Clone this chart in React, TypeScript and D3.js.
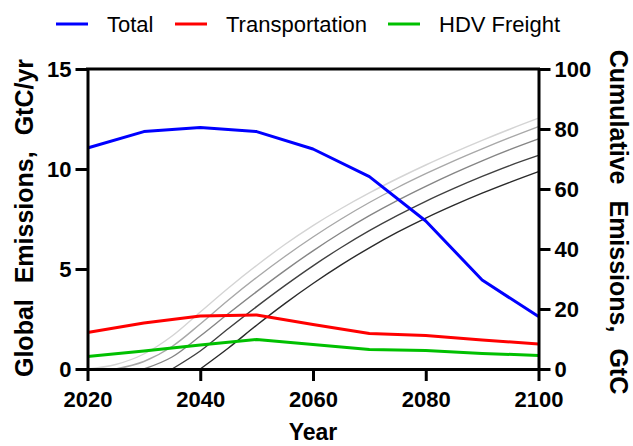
import { useEffect, useRef } from "react";
import * as d3 from "d3";

// emissions by decade, GtC/yr
const years = [2020, 2030, 2040, 2050, 2060, 2070, 2080, 2090, 2100];
const total = [11.05, 11.87, 12.07, 11.87, 11.0, 9.62, 7.4, 4.45, 2.62];
const transportation = [1.83, 2.3, 2.65, 2.7, 2.22, 1.78, 1.68, 1.45, 1.25];
const hdvFreight = [0.62, 0.9, 1.2, 1.48, 1.22, 0.98, 0.92, 0.78, 0.68];

// cumulative emissions (GtC), 5-year steps from each start year
const cumStart = [2020, 2025, 2030, 2035, 2040];
const cum2020 = [0, 1.5, 5, 11, 19, 27, 34.5, 41.5, 47.8, 53.5, 58.7, 63.5, 68, 72.2, 76.2, 80, 83.6];
const cum2025 = [0, 2.5, 7.5, 15, 23, 30.5, 37.5, 44, 50, 55.5, 60.5, 65.1, 69.4, 73.4, 77.2, 80.8];
const cum2030 = [0, 4, 11, 18.5, 25.8, 32.8, 39.4, 45.5, 51.1, 56.2, 60.9, 65.3, 69.4, 73.2, 76.7];
const cum2035 = [0, 6, 13.5, 20.8, 27.8, 34.4, 40.5, 46.1, 51.2, 55.9, 60.2, 64.2, 67.9, 71.2];
const cum2040 = [0, 7, 14.6, 21.8, 28.5, 34.7, 40.4, 45.6, 50.3, 54.6, 58.6, 62.3, 65.8];
const cumColors = ["#d4d4d4", "#a8a8a8", "#858585", "#404040", "#2a2a2a"];

const seriesNames = ["Total", "Transportation", "HDV Freight"];
const seriesColors = ["#0000ff", "#ff0000", "#00c000"];

const xTicks = [2020, 2040, 2060, 2080, 2100];
const leftTicks = [0, 5, 10, 15];
const rightTicks = [0, 20, 40, 60, 80, 100];

const width = 633;
const height = 446;
const marginLeft = 87.5;
const marginRight = 94.5;
const marginTop = 69;
const marginBottom = 77;
const font = "Arial, 'Liberation Sans', Helvetica, sans-serif";

export default function App() {
  const ref = useRef(null);

  useEffect(() => {
    const svg = d3.select(ref.current);
    svg.selectAll("*").remove();

    const x = d3.scaleLinear([2020, 2100], [marginLeft, width - marginRight]);
    const y = d3.scaleLinear([0, 15], [height - marginBottom, marginTop]);
    const y2 = d3.scaleLinear([0, 100], [height - marginBottom, marginTop]);

    // cumulative lines (right axis)
    [cum2020, cum2025, cum2030, cum2035, cum2040].forEach((vals, k) => {
      const start = cumStart[k];
      const cumLine = d3.line<number>()
        .x((d, i) => x(start + i * 5))
        .y(d => y2(d))
        .curve(d3.curveMonotoneX);
      svg.append("path")
        .attr("fill", "none")
        .attr("stroke", cumColors[k])
        .attr("stroke-width", 1.4)
        .attr("d", cumLine(vals));
    });

    // emission lines (left axis)
    const line = d3.line<number>()
      .x((d, i) => x(years[i]))
      .y(d => y(d));
    [total, transportation, hdvFreight].forEach((vals, k) => {
      svg.append("path")
        .attr("fill", "none")
        .attr("stroke", seriesColors[k])
        .attr("stroke-width", 3)
        .attr("stroke-linejoin", "round")
        .attr("d", line(vals));
    });

    const styleAxis = g => {
      g.attr("font-family", font).attr("font-size", 22).attr("font-weight", "bold");
      g.selectAll(".domain").attr("stroke-width", 3).attr("stroke-linecap", "square");
      g.selectAll(".tick line").attr("stroke-width", 3);
      g.selectAll(".tick text").attr("fill", "#000");
    };

    // top frame line
    svg.append("line")
      .attr("x1", marginLeft).attr("x2", width - marginRight)
      .attr("y1", marginTop).attr("y2", marginTop)
      .attr("stroke", "#000").attr("stroke-width", 3).attr("stroke-linecap", "square");

    svg.append("g")
      .attr("transform", `translate(0,${height - marginBottom})`)
      .call(d3.axisBottom(x).tickValues(xTicks).tickFormat(d3.format("d")).tickSize(12).tickSizeOuter(0).tickPadding(10))
      .call(styleAxis);

    svg.append("g")
      .attr("transform", `translate(${marginLeft},0)`)
      .call(d3.axisLeft(y).tickValues(leftTicks).tickSize(12).tickSizeOuter(0).tickPadding(4))
      .call(styleAxis);

    svg.append("g")
      .attr("transform", `translate(${width - marginRight},0)`)
      .call(d3.axisRight(y2).tickValues(rightTicks).tickSize(12).tickSizeOuter(0).tickPadding(4))
      .call(styleAxis);

    // axis titles
    svg.append("text")
      .attr("x", (marginLeft + width - marginRight) / 2)
      .attr("y", 440)
      .attr("text-anchor", "middle")
      .attr("font-family", font).attr("font-size", 23).attr("font-weight", "bold")
      .text("Year");

    svg.append("text")
      .attr("transform", `translate(33,${(marginTop + height - marginBottom) / 2 - 1}) rotate(-90)`)
      .attr("text-anchor", "middle")
      .attr("font-family", font).attr("font-size", 25).attr("font-weight", "bold")
      .attr("word-spacing", 9)
      .text("Global Emissions, GtC/yr");

    svg.append("text")
      .attr("transform", `translate(610,${(marginTop + height - marginBottom) / 2 + 3}) rotate(90)`)
      .attr("text-anchor", "middle")
      .attr("font-family", font).attr("font-size", 25).attr("font-weight", "bold")
      .attr("word-spacing", 9)
      .text("Cumulative Emissions, GtC");

    // legend
    const legendX = [56, 175, 388];
    seriesNames.forEach((name, k) => {
      const g = svg.append("g").attr("transform", `translate(${legendX[k]},24)`);
      g.append("line").attr("x1", 0).attr("x2", 32)
        .attr("stroke", seriesColors[k]).attr("stroke-width", 3);
      g.append("text").attr("x", 51).attr("y", 8)
        .attr("font-family", font).attr("font-size", 22)
        .text(name);
    });
  }, []);

  return (
    <div style={{ position: "absolute", left: 0, top: 0 }}>
      <svg ref={ref} width={width} height={height} style={{ display: "block", background: "#fff" }} />
    </div>
  );
}
